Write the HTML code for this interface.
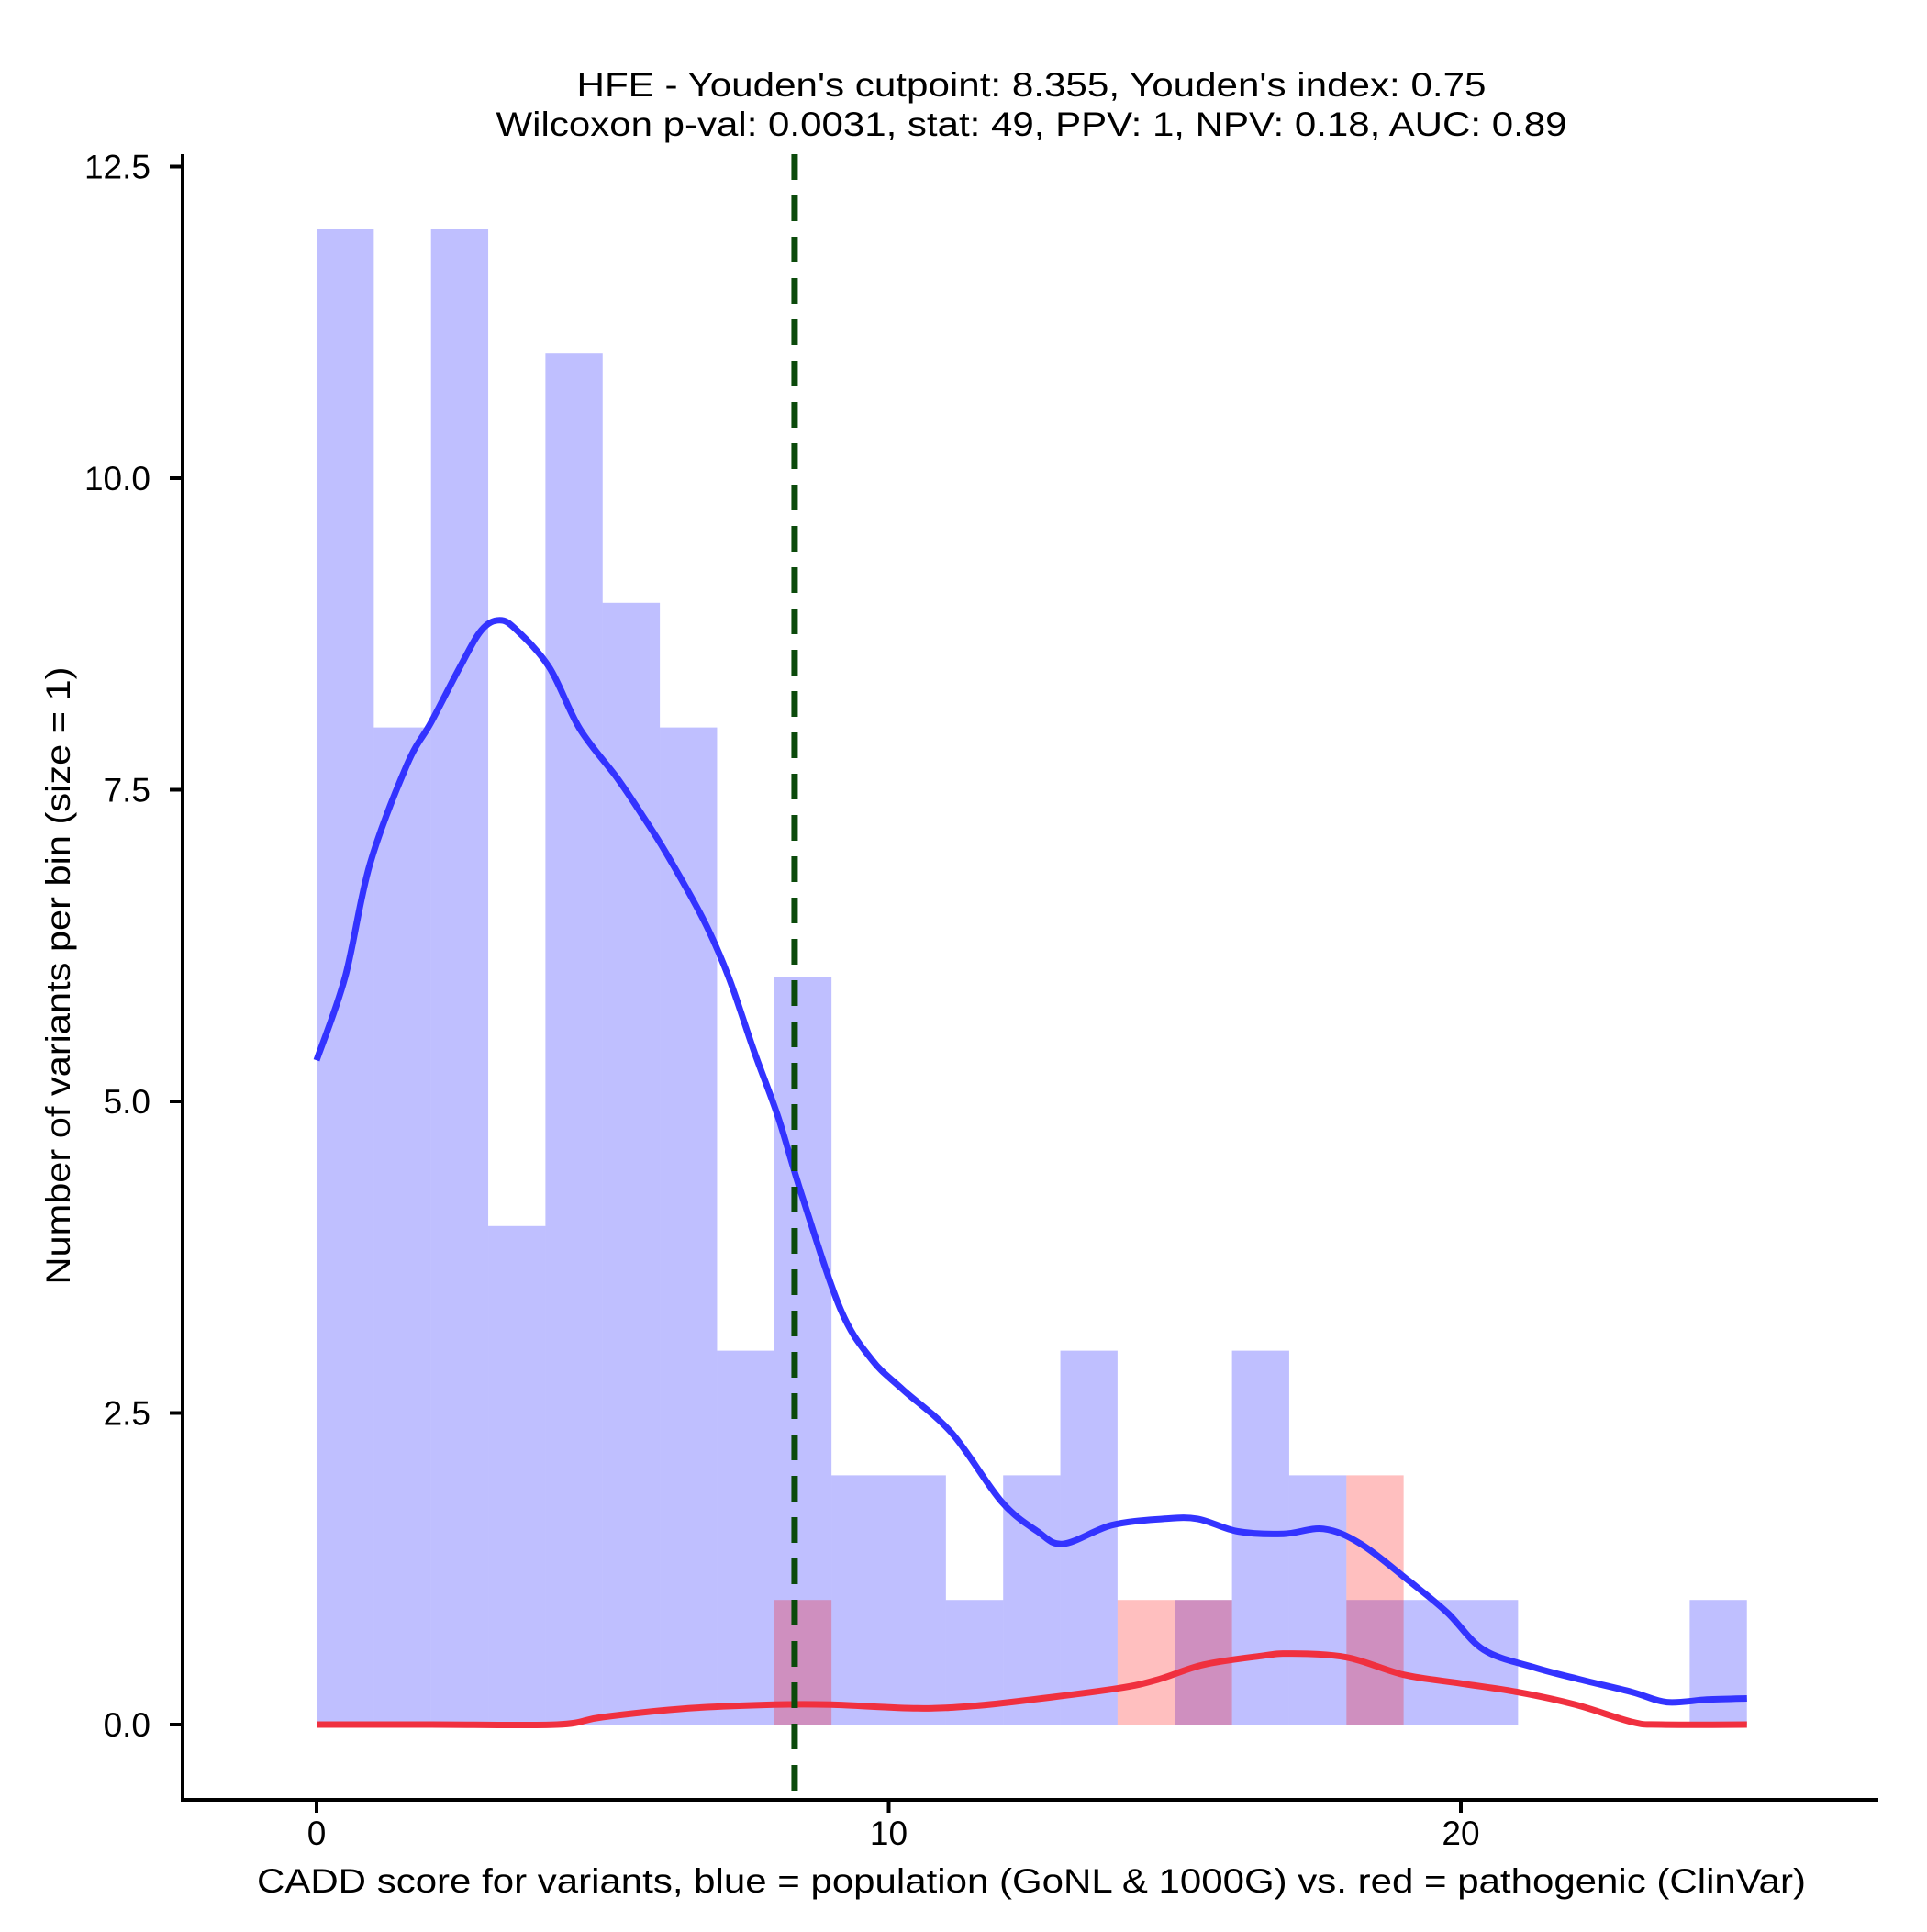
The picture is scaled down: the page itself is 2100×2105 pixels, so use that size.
<!DOCTYPE html>
<html><head><meta charset="utf-8"><style>
html,body{margin:0;padding:0;background:#fff;}
svg text{font-family:"Liberation Sans",Arial,sans-serif;fill:#000;}
</style></head><body>
<svg id="chart" width="2100" height="2100" viewBox="0 0 2100 2100" xmlns="http://www.w3.org/2000/svg">
<g id="title">
<text x="1124" y="105" font-size="37" text-anchor="middle" textLength="991" lengthAdjust="spacingAndGlyphs">HFE - Youden's cutpoint: 8.355, Youden's index: 0.75</text>
<text x="1124" y="148" font-size="37" text-anchor="middle" textLength="1167" lengthAdjust="spacingAndGlyphs">Wilcoxon p-val: 0.0031, stat: 49, PPV: 1, NPV: 0.18, AUC: 0.89</text>
</g>
<g id="bars-blue"></g>
<g id="bars-red"></g>
<g id="lines"></g>
<g id="axes"></g>
<text x="1124" y="2062" font-size="37" text-anchor="middle" textLength="1688" lengthAdjust="spacingAndGlyphs">CADD score for variants, blue = population (GoNL &amp; 1000G) vs. red = pathogenic (ClinVar)</text>
<text x="0" y="0" font-size="37" text-anchor="middle" textLength="673" lengthAdjust="spacingAndGlyphs" transform="translate(76,1063) rotate(-90)">Number of variants per bin (size = 1)</text>
</svg>
<script>
const blueCounts=[12,8,12,4,11,9,8,3,6,2,2,1,2,3,0,1,3,2,1,1,1,0,0,0,1];
const redCounts=[0,0,0,0,0,0,0,0,1,0,0,0,0,0,1,1,0,0,2,0,0,0,0,0,0];
const blueDensX=[0,0.5,0.93,1.58,2,2.5,2.88,3.2,3.5,4.07,4.6,5.26,5.7,6.1,6.77,7.2,7.64,8.07,8.5,9.16,9.7,10.24,11.1,11.97,12.6,13.05,13.9,14.8,15.4,16.1,16.9,17.6,18.25,19.1,19.76,20.4,21.27,22.1,23,23.6,24.3,25];
const blueDensY=[5.33,6.0,6.9,7.7,8.04,8.48,8.78,8.86,8.78,8.48,7.99,7.59,7.29,7.0,6.45,6.0,5.41,4.87,4.22,3.33,2.93,2.69,2.34,1.79,1.55,1.45,1.6,1.65,1.65,1.55,1.53,1.57,1.45,1.15,0.9,0.6,0.46,0.36,0.26,0.18,0.2,0.21];
const redDensX=[0,2,4.2,5,6.5,8,9,10.5,11.5,12.5,14,14.7,15.5,16.5,17,18,19,20,21,22,23,23.5,25];
const redDensY=[0,0,0,0.06,0.13,0.16,0.16,0.13,0.15,0.2,0.29,0.36,0.48,0.55,0.57,0.54,0.4,0.33,0.26,0.16,0.02,0,0];
const cutpoint=8.355;
const yTicks=[0,2.5,5,7.5,10,12.5];
const yTickLabels=["0.0","2.5","5.0","7.5","10.0","12.5"];
const xTicks=[0,10,20];
const xTickLabels=["0","10","20"];

const NS="http://www.w3.org/2000/svg";
const sx=v=>345+v*62.35;
const sy=v=>1879-v*135.8;
function mk(tag,attrs,parent){const e=document.createElementNS(NS,tag);for(const k in attrs)e.setAttribute(k,attrs[k]);parent.appendChild(e);return e;}
const gb=document.getElementById('bars-blue'),gr=document.getElementById('bars-red'),gl=document.getElementById('lines'),ga=document.getElementById('axes');
blueCounts.forEach((c,i)=>{if(!c)return;
 const r=mk('rect',{x:sx(i),y:sy(c),width:sx(i+1)-sx(i),height:sy(0)-sy(c),fill:'rgba(0,0,255,0.25)'},gb);
 
 });
redCounts.forEach((c,i)=>{if(!c)return;
 const r=mk('rect',{x:sx(i),y:sy(c),width:sx(i+1)-sx(i),height:sy(0)-sy(c),fill:'rgba(255,0,0,0.25)'},gr);
 
 });
function path(xs,ys){
 const p=xs.map((x,i)=>[sx(x),sy(ys[i])]);
 let d='M'+p[0][0].toFixed(1)+','+p[0][1].toFixed(1);
 for(let i=0;i<p.length-1;i++){
  const p0=p[Math.max(0,i-1)],p1=p[i],p2=p[i+1],p3=p[Math.min(p.length-1,i+2)];
  const c1=[p1[0]+(p2[0]-p0[0])/6,p1[1]+(p2[1]-p0[1])/6],c2=[p2[0]-(p3[0]-p1[0])/6,p2[1]-(p3[1]-p1[1])/6];
  d+=' C'+c1[0].toFixed(1)+','+c1[1].toFixed(1)+' '+c2[0].toFixed(1)+','+c2[1].toFixed(1)+' '+p2[0].toFixed(1)+','+p2[1].toFixed(1);
 }
 return d;}
const bl=mk('path',{d:path(blueDensX,blueDensY),fill:'none',stroke:'#3333ff',"stroke-width":7,"stroke-linejoin":'round'},gl);


const rl=mk('path',{d:path(redDensX,redDensY),fill:'none',stroke:'#f0303f',"stroke-width":7,"stroke-linejoin":'round'},gl);


const cl=mk('line',{x1:sx(cutpoint),x2:sx(cutpoint),y1:168,y2:1961,stroke:'#0b4a0b',"stroke-width":7,"stroke-dasharray":'28,17'},gl);


const ya=mk('line',{x1:199,x2:199,y1:168,y2:1963,stroke:'#000',"stroke-width":4},ga);


const xa=mk('line',{x1:197,x2:2047,y1:1961,y2:1961,stroke:'#000',"stroke-width":4},ga);


yTicks.forEach((v,i)=>{
 const t=mk('line',{x1:185,x2:199,y1:sy(v),y2:sy(v),stroke:'#000',"stroke-width":4},ga);
 
 
 const l=mk('text',{x:164,y:sy(v)+13,"font-size":37,"text-anchor":'end'},ga);
 l.textContent=yTickLabels[i];
 
 });
xTicks.forEach((v,i)=>{
 const t=mk('line',{x1:sx(v),x2:sx(v),y1:1961,y2:1975,stroke:'#000',"stroke-width":4},ga);
 
 
 const l=mk('text',{x:sx(v),y:2010,"font-size":37,"text-anchor":'middle'},ga);
 l.textContent=xTickLabels[i];
 
 });
</script>
</body></html>
